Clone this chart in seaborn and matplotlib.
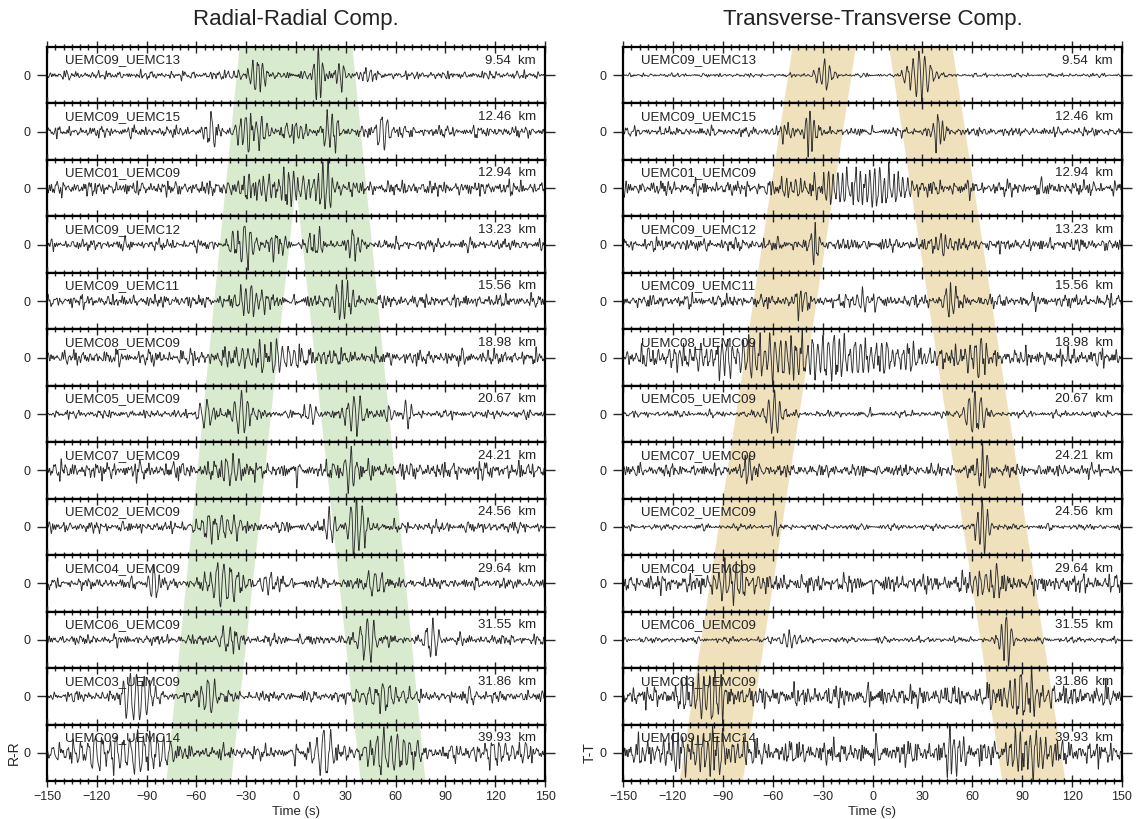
import numpy as np
import pandas as pd
import seaborn as sns
import matplotlib
matplotlib.use("Agg")
import matplotlib.pyplot as plt
from matplotlib.ticker import MultipleLocator
from matplotlib.transforms import blended_transform_factory

sns.set_theme(style="ticks")
plt.rcParams["font.family"] = ["Liberation Sans", "DejaVu Sans"]

# ---------------------------------------------------------------- data
pairs = ["UEMC09_UEMC13", "UEMC09_UEMC15", "UEMC01_UEMC09", "UEMC09_UEMC12",
         "UEMC09_UEMC11", "UEMC08_UEMC09", "UEMC05_UEMC09", "UEMC07_UEMC09",
         "UEMC02_UEMC09", "UEMC04_UEMC09", "UEMC06_UEMC09", "UEMC03_UEMC09",
         "UEMC09_UEMC14"]
distances_km = [9.54, 12.46, 12.94, 13.23, 15.56, 18.98, 20.67, 24.21,
                24.56, 29.64, 31.55, 31.86, 39.93]

# wave packets of each correlation: (start lag s, end lag s, amplitude, period s)
rr_packets = [
    [(-45, -30, 0.2, 3.0), (-32, -14, 0.45, 3.0), (9, 18, 1.0, 2.8), (19, 33, 0.4, 3.0), (34, 50, 0.2, 3.0)],
    [(-57, -45, 0.65, 3.5), (-40, -14, 0.6, 3.2), (-12, 12, 0.3, 3.0), (15, 29, 0.8, 3.2), (45, 58, 0.7, 3.5)],
    [(-45, 30, 0.45, 3.0), (-28, -20, 0.4, 2.5), (-8, 0, 0.35, 2.8), (12, 26, 0.55, 3.0)],
    [(-42, -20, 0.7, 3.5), (-20, -4, 0.4, 3.0), (2, 20, 0.45, 3.2), (28, 40, 0.45, 3.0)],
    [(-38, -16, 0.5, 3.2), (20, 36, 0.75, 3.2)],
    [(-55, 25, 0.4, 3.5), (0, 16, 0.25, 3.0)],
    [(-62, -45, 0.5, 4.0), (-42, -24, 0.8, 3.8), (2, 15, 0.35, 3.5), (26, 44, 0.75, 3.8), (52, 60, 0.4, 3.5), (62, 70, 0.5, 3.5)],
    [(-48, -28, 0.5, 3.5), (26, 40, 0.8, 3.5)],
    [(-65, -25, 0.4, 3.8), (14, 26, 0.45, 3.5), (29, 44, 1.0, 3.5)],
    [(-90, -81, 0.7, 3.5), (-57, -30, 0.75, 4.0), (-25, -5, 0.3, 3.5), (37, 58, 0.45, 4.0)],
    [(-50, -30, 0.5, 4.0), (36, 50, 0.85, 4.0), (77, 88, 0.6, 4.0)],
    [(-108, -84, 0.9, 4.0), (-62, -44, 0.6, 4.0), (30, 75, 0.35, 4.0), (100, 110, 0.35, 4.0)],
    [(-150, -75, 0.6, 4.2), (-100, -68, 0.5, 4.0), (5, 28, 0.7, 4.2), (36, 78, 0.6, 4.0), (95, 150, 0.35, 4.0)],
]
rr_noise = [0.13, 0.17, 0.23, 0.17, 0.2, 0.23, 0.13, 0.27, 0.17, 0.17, 0.16, 0.17, 0.22]

tt_packets = [
    [(-38, -20, 0.45, 3.2), (18, 38, 1.0, 3.5)],
    [(-62, -44, 0.25, 2.5), (-42, -33, 1.0, 2.5), (33, 46, 0.6, 2.8)],
    [(-65, 40, 0.5, 2.8), (-14, 16, 0.45, 3.0)],
    [(-38, -31, 0.8, 2.6), (34, 48, 0.5, 3.0)],
    [(-50, -36, 0.5, 3.0), (-11, -1, 0.45, 3.0), (40, 54, 0.6, 3.2)],
    [(-135, 50, 0.6, 3.2), (-50, -38, 0.4, 3.0), (52, 72, 0.75, 3.2)],
    [(-66, -52, 0.8, 3.5), (53, 70, 0.85, 3.5)],
    [(-82, -66, 0.45, 3.2), (60, 72, 0.9, 3.2)],
    [(-63, -54, 0.3, 3.2), (60, 72, 1.0, 3.0)],
    [(-105, -66, 0.6, 3.3), (52, 84, 0.5, 3.3)],
    [(-57, -43, 0.3, 3.2), (75, 86, 0.9, 3.0)],
    [(-118, -78, 0.8, 3.3), (68, 110, 0.6, 3.3)],
    [(-135, -75, 0.6, 3.0), (-79, -75, 0.6, 2.0), (38, 60, 0.7, 3.0), (75, 115, 0.6, 3.0)],
]
tt_noise = [0.06, 0.14, 0.23, 0.2, 0.2, 0.28, 0.1, 0.2, 0.09, 0.28, 0.09, 0.33, 0.38]

# dominant periods of the ambient background (s)
texture_periods = [1.15, 1.4, 1.7, 2.1, 2.6, 3.2, 4.0, 5.1, 6.5]

# shaded arrival windows: ((left, right) lag at top of stack, (left, right) at bottom)
rr_windows = [((-34, 9), (-78, -39)), ((-9, 34), (39, 78))]
tt_windows = [((-48, -10), (-116, -78)), ((10, 48), (78, 116))]

lags = np.arange(-150, 150.01, 0.1)


def build_trace(packets, noise, row, panel):
    n = len(texture_periods)
    bg = np.zeros_like(lags)
    for k, p in enumerate(texture_periods):
        phase = 2.399 * (k + 1) * (row + 1) + 1.3 * panel * (k + 2)
        bg += np.cos(2 * np.pi * lags / p + phase)
    bg /= np.sqrt(n / 2)
    bg *= 1 + 0.35 * np.cos(2 * np.pi * lags / 23.0 + row + panel)
    y = 0.45 * noise * bg
    for start, end, amp, period in packets:
        c = 0.5 * (start + end)
        s = (end - start) / 4.0
        env = np.exp(-0.5 * ((lags - c) / s) ** 2)
        y += amp * env * (0.9 * np.cos(2 * np.pi * (lags - c) / period) + 0.12 * bg)
    return y


# ---------------------------------------------------------------- layout
W, H = 1139, 819
fig = plt.figure(figsize=(W / 100, H / 100), dpi=100)

panels = [
    dict(title="Radial-Radial Comp.", ylabel="R-R", packets=rr_packets, noise=rr_noise,
         windows=rr_windows, color="#d9ebcf", x0=47, x1=545),
    dict(title="Transverse-Transverse Comp.", ylabel="T-T", packets=tt_packets, noise=tt_noise,
         windows=tt_windows, color="#f0e1bd", x0=623, x1=1122),
]

top_px, bot_px = 47, 781
n_rows = len(pairs)
row_h = (bot_px - top_px) / n_rows / H

for p_i, panel in enumerate(panels):
    left = panel["x0"] / W
    width = (panel["x1"] - panel["x0"]) / W
    for r in range(n_rows):
        ax = fig.add_axes([left, 1 - top_px / H - (r + 1) * row_h, width, row_h])

        # shaded windows, interpolated linearly down the stack
        trans = blended_transform_factory(ax.transData, ax.transAxes)
        f0, f1 = r / n_rows, (r + 1) / n_rows
        for (lt, rt), (lb, rb) in panel["windows"]:
            xs = [lt + f0 * (lb - lt), rt + f0 * (rb - rt), rt + f1 * (rb - rt), lt + f1 * (lb - lt)]
            ax.fill(xs, [1, 1, 0, 0], color=panel["color"], lw=0, zorder=0, transform=trans)

        trace = build_trace(panel["packets"][r], panel["noise"][r], r, p_i)
        df = pd.DataFrame({"lag": lags, "amp": trace})
        sns.lineplot(data=df, x="lag", y="amp", ax=ax, color="#2e2e2e", linewidth=0.65,
                     estimator=None, sort=False)

        ax.set_xlim(-150, 150)
        ax.set_ylim(-1.0, 1.0)
        ax.xaxis.set_major_locator(MultipleLocator(30))
        ax.xaxis.set_minor_locator(MultipleLocator(5))
        last = r == n_rows - 1
        ax.tick_params(axis="x", which="both", direction="inout", top=True, bottom=last,
                       labeltop=False, labelbottom=last, width=1.0, labelsize=9, pad=3)
        ax.tick_params(axis="x", which="major", length=8)
        ax.tick_params(axis="x", which="minor", length=4)
        ax.set_yticks([0])
        ax.set_yticklabels(["0"])
        ax.tick_params(axis="y", direction="out", left=True, right=True, length=7,
                       width=1.0, labelsize=9, pad=5)
        for sp in ax.spines.values():
            sp.set_linewidth(1.6)
            sp.set_color("black")
        ax.set_xlabel("")
        ax.set_ylabel("")

        ax.text(0.036, 0.76, pairs[r], transform=ax.transAxes, fontsize=9.5,
                ha="left", va="center", color="#222222")
        ax.text(0.982, 0.76, f"{distances_km[r]:.2f}  km", transform=ax.transAxes,
                fontsize=9.5, ha="right", va="center", color="#222222")

        if last:
            ax.set_xlabel("Time (s)", fontsize=9.5, labelpad=2)
            ax.set_ylabel(panel["ylabel"], fontsize=10, labelpad=2)

    fig.text((panel["x0"] + panel["x1"]) / 2 / W, 1 - 19 / H, panel["title"],
             ha="center", va="center", fontsize=16, color="#222222")

fig.savefig("out.png", dpi=100)
